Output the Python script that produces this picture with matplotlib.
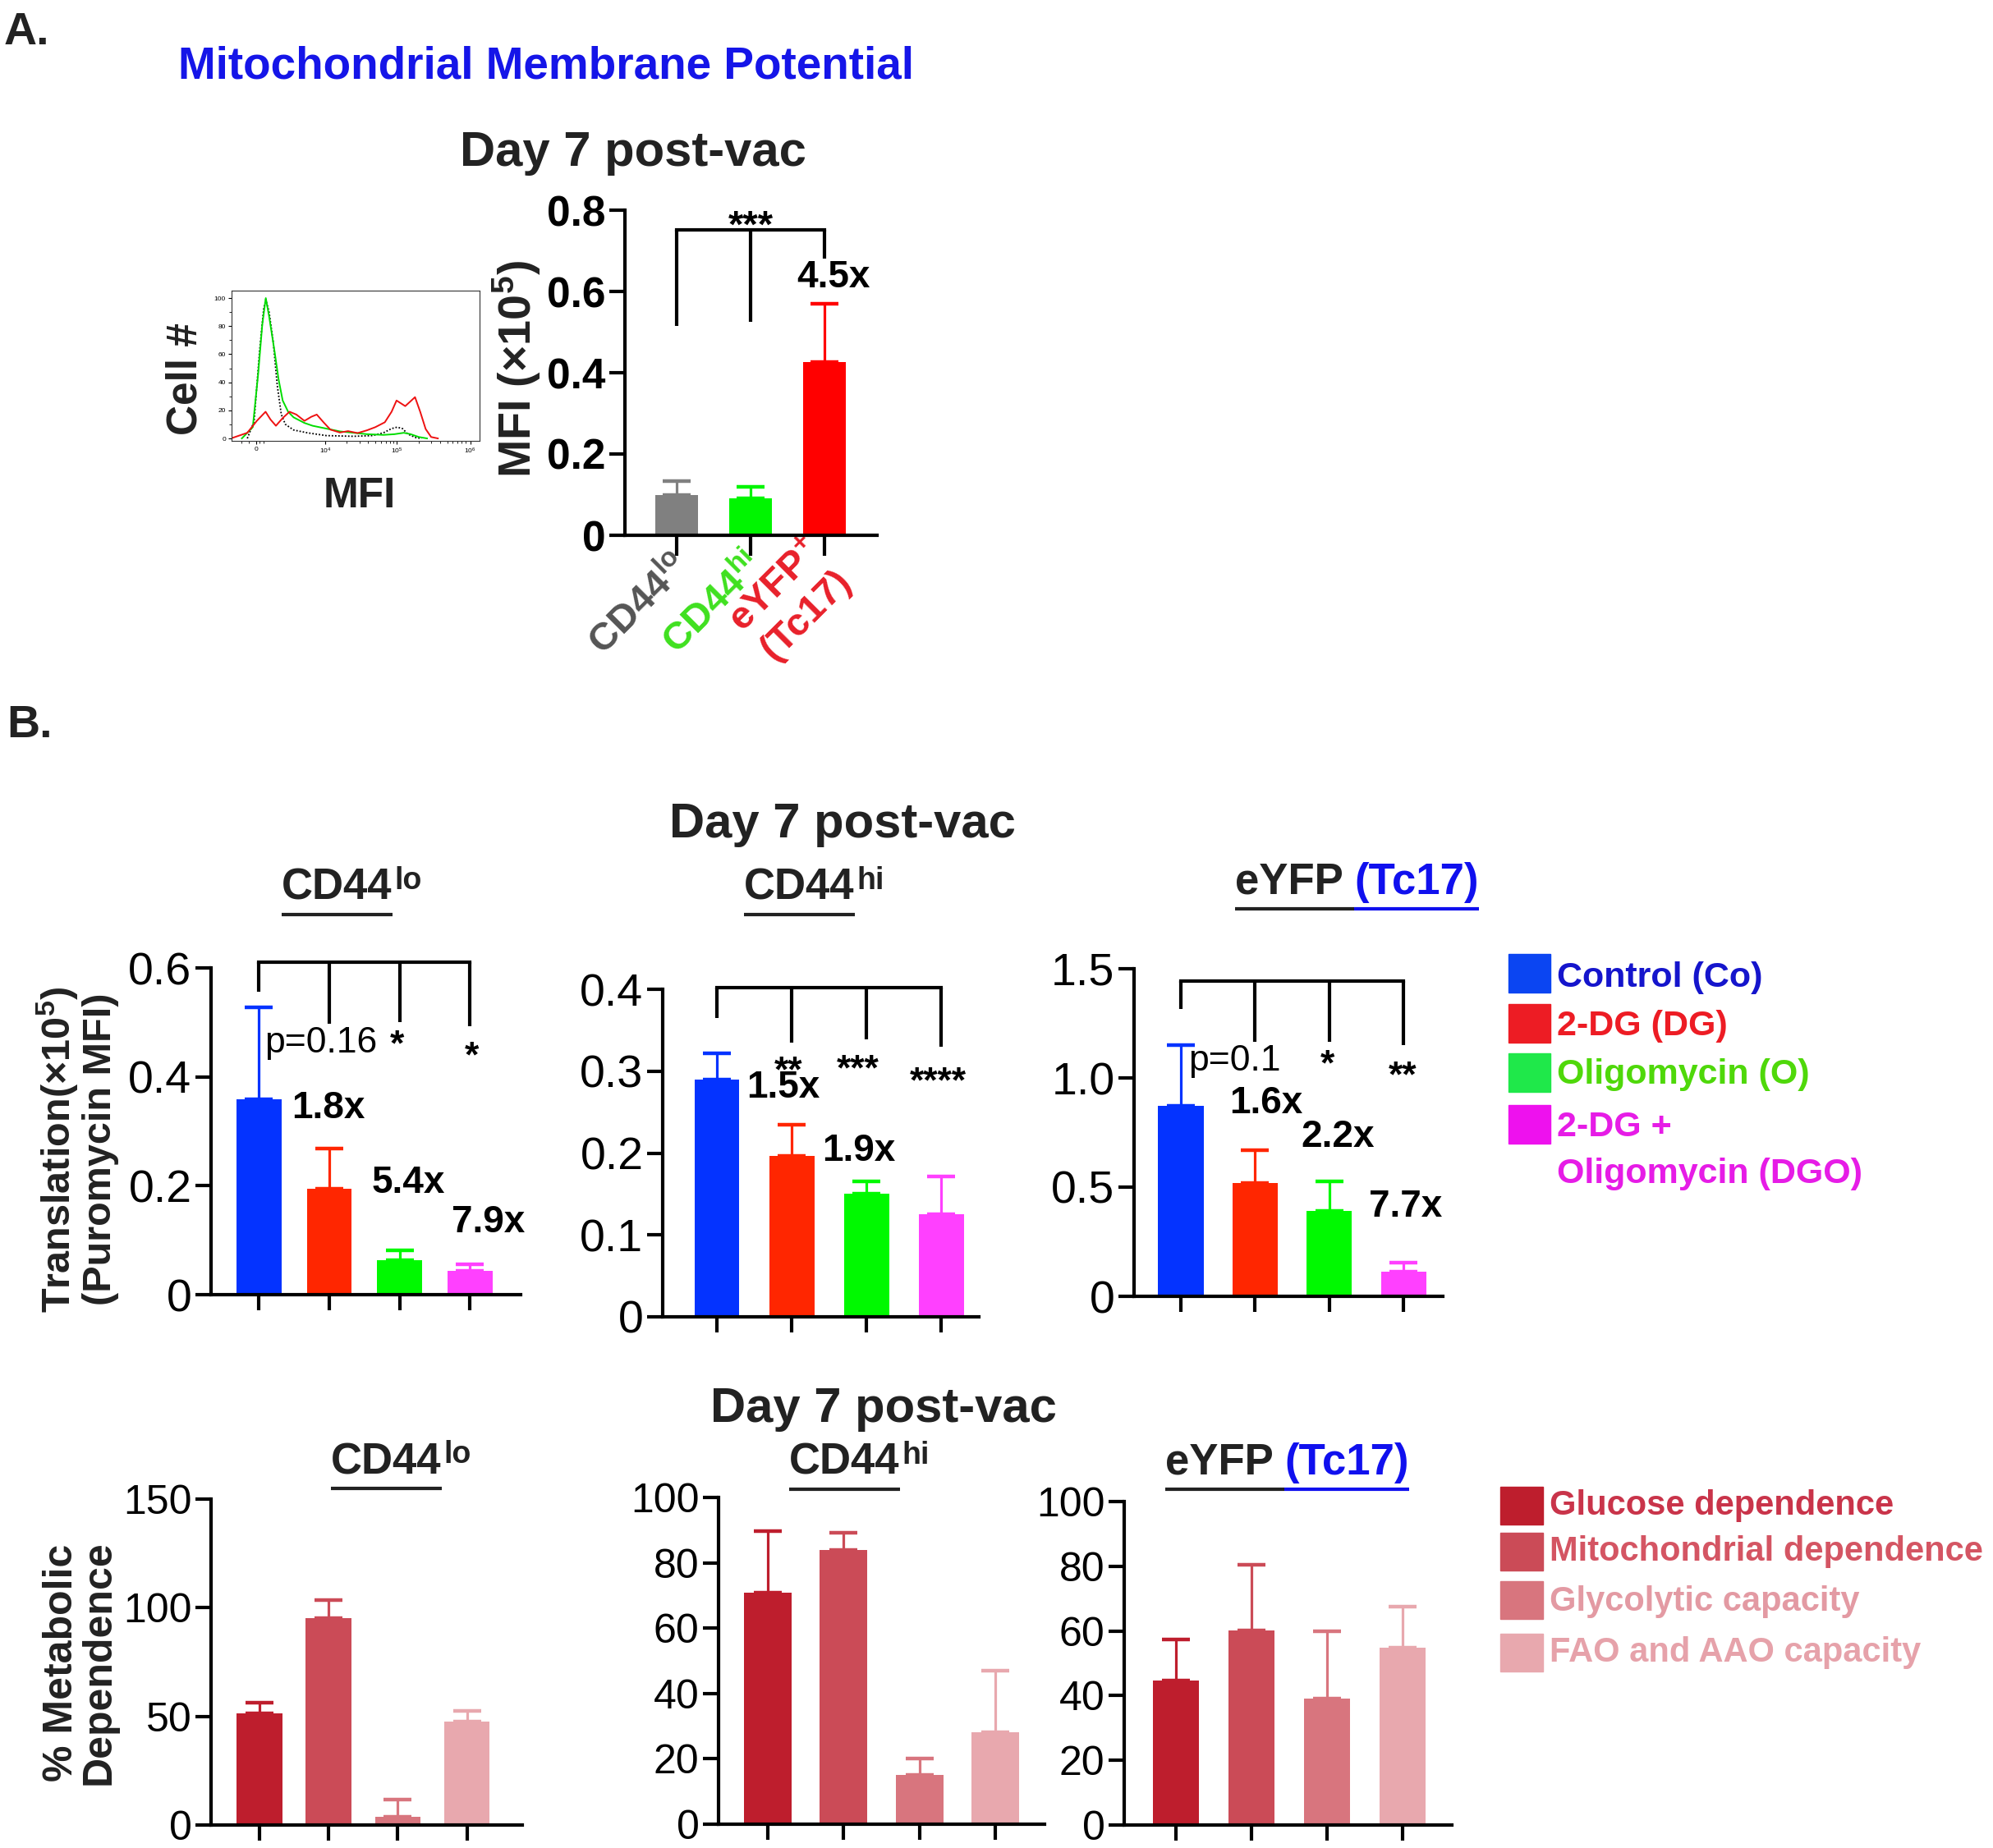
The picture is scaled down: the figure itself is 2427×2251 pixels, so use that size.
import matplotlib
matplotlib.use('Agg')
import matplotlib.pyplot as plt
import matplotlib.transforms as mtransforms
from matplotlib.patches import Rectangle
from matplotlib.lines import Line2D
import numpy as np

plt.rcParams['font.family'] = 'Liberation Sans'
plt.rcParams['mathtext.fontset'] = 'custom'
plt.rcParams['mathtext.rm'] = 'Liberation Sans'
plt.rcParams['mathtext.bf'] = 'Liberation Sans:bold'
plt.rcParams['mathtext.it'] = 'Liberation Sans:italic'

W, H = 2427, 2251

# ---------------- data ----------------
# A. flow histogram, x in display decades (0 -> "0", ~1 -> 10^4, ~2 -> 10^5, ~3 -> 10^6)
hist_xticks = [0, 0.96, 1.96, 2.98]
hist_xticklabels = ['0', '10$^4$', '10$^5$', '10$^6$']
green_x = [-0.197, -0.045, 0.030, 0.087, 0.136, 0.182, 0.258, 0.314, 0.371, 0.447, 0.523,
           0.674, 0.788, 0.977, 1.167, 1.356, 1.545, 1.773, 1.924, 2.057, 2.152, 2.265, 2.379]
green_y = [0, 8, 46, 81, 100, 87, 62, 42, 27, 19, 15, 11, 9, 7, 5, 4, 3, 2.5, 3, 4, 3, 1, 0]
dotted_x = [-0.121, -0.027, 0.049, 0.106, 0.136, 0.182, 0.239, 0.295, 0.352, 0.409, 0.523,
            0.712, 0.977, 1.356, 1.621, 1.773, 1.886, 1.962, 2.038, 2.114, 2.227, 2.303]
dotted_y = [0, 12, 62, 92, 99, 90, 69, 38, 17, 10, 6, 4, 2, 1.5, 2, 4, 7, 8, 7, 3, 0.5, 0]
red_x = [-0.348, -0.121, 0.011, 0.133, 0.201, 0.277, 0.371, 0.466, 0.561, 0.674, 0.769, 0.845,
         0.939, 1.034, 1.167, 1.280, 1.413, 1.545, 1.659, 1.792, 1.886, 1.955, 2.076, 2.212,
         2.284, 2.360, 2.436, 2.530]
red_y = [0, 4, 12.5, 19, 13.5, 9, 14.5, 19, 17, 12.5, 15.4, 17, 11.5, 6.3, 4.2, 5.2, 3.8, 5.8,
         8, 11.5, 19, 27, 23, 29.4, 19, 6.7, 1, 0]

# A. MFI bar chart
mmp_groups = ['CD44$^{\\mathbf{lo}}$', 'CD44$^{\\mathbf{hi}}$', 'eYFP$^{\\mathbf{+}}$\n(Tc17)']
mmp_mean = [0.099, 0.091, 0.427]
mmp_sem = [0.035, 0.029, 0.143]

# B. translation (puromycin MFI, x10^5)
treatments = ['Control (Co)', '2-DG (DG)', 'Oligomycin (O)', '2-DG +\nOligomycin (DGO)']
puro_lo_mean = [0.359, 0.194, 0.064, 0.043]
puro_lo_sem = [0.169, 0.075, 0.017, 0.013]
puro_hi_mean = [0.290, 0.196, 0.150, 0.125]
puro_hi_sem = [0.032, 0.039, 0.015, 0.046]
puro_yfp_mean = [0.872, 0.520, 0.391, 0.111]
puro_yfp_sem = [0.279, 0.148, 0.136, 0.042]

# B. % metabolic dependence
capacities = ['Glucose dependence', 'Mitochondrial dependence', 'Glycolytic capacity',
              'FAO and AAO capacity']
dep_lo_mean = [51.2, 95.3, 3.6, 47.6]
dep_lo_sem = [5.2, 8.2, 8.1, 5.0]
dep_hi_mean = [70.8, 84.0, 15.2, 28.2]
dep_hi_sem = [18.8, 5.2, 5.0, 18.7]
dep_yfp_mean = [44.6, 60.2, 39.2, 54.9]
dep_yfp_sem = [12.7, 20.3, 20.7, 12.6]

# ---------------- styles ----------------
mmp_colors = ['#808080', '#00f500', '#ff0000']
mmp_label_colors = ['#555555', '#3fe01f', '#e8202a']
treat_colors = ['#0433ff', '#ff2600', '#00f900', '#ff40ff']
treat_sq_colors = ['#0b45f2', '#ed1c24', '#1fe84a', '#ee11ee']
treat_text_colors = ['#1515cc', '#ed1c24', '#4fd80a', '#e61ce6']
cap_colors = ['#be1e2d', '#cb4b57', '#d8757e', '#e8a8ae']
cap_text_colors = ['#c9344a', '#d45563', '#e39aa3', '#e6a2aa']
LW = 3

fig = plt.figure(figsize=(W / 100, H / 100), dpi=100)
renderer = fig.canvas.get_renderer()


def add_ax(x0, x1, ytop, ybot):
    return fig.add_axes([x0 / W, 1 - ybot / H, (x1 - x0) / W, (ybot - ytop) / H])


def ftext(x, y, s, **kw):
    return fig.text(x / W, 1 - y / H, s, **kw)


def bar_panel(box, xlim, ylim, yticks, yticklabels, means, sems, colors, width,
              labelsize, bold=False):
    ax = add_ax(*box)
    pos = np.arange(len(means))
    ax.bar(pos, means, width, color=colors, zorder=2)
    for p, m, s, c in zip(pos, means, sems, colors):
        ax.errorbar(p, m, yerr=[[0], [s]], fmt='none', ecolor=c, elinewidth=2.3,
                    capsize=12, capthick=3.2, zorder=1)
    ax.set_xlim(xlim)
    ax.set_ylim(ylim)
    for side in ['top', 'right']:
        ax.spines[side].set_visible(False)
    for side in ['left', 'bottom']:
        ax.spines[side].set_linewidth(LW)
    ax.set_xticks(pos)
    ax.set_xticklabels([])
    ax.set_yticks(yticks)
    ax.set_yticklabels(yticklabels, fontweight='bold' if bold else 'normal')
    ax.tick_params(axis='both', direction='out', length=14, width=LW,
                   labelsize=labelsize, pad=3)
    return ax


def bracket(ax, xs, y, legs):
    ax.plot([xs[0], xs[-1]], [y, y], color='k', lw=LW, clip_on=False,
            solid_capstyle='projecting')
    for x, l in zip(xs, legs):
        ax.plot([x, x], [l, y], color='k', lw=LW, clip_on=False, solid_capstyle='butt')


def underline(bb, color, off=7):
    y = bb.y0 - off
    fig.add_artist(Line2D([bb.x0 / W, bb.x1 / W], [y / H, y / H], color=color, lw=3,
                          solid_capstyle='butt', transform=fig.transFigure))


def subtitle(x, baseline, main, sup=None, tail=None):
    t = ftext(x, baseline, main, fontsize=38, fontweight='bold', color='#222222',
              ha='left', va='baseline')
    bb = t.get_window_extent(renderer=renderer)
    underline(bb, '#222222')
    xr = bb.x1
    if sup is not None:
        ftext(xr + 3, baseline - 13, sup, fontsize=27, fontweight='bold', color='#222222',
              ha='left', va='baseline')
    if tail is not None:
        t2 = ftext(xr, baseline, tail, fontsize=38, fontweight='bold', color='#1010ee',
                   ha='left', va='baseline')
        underline(t2.get_window_extent(renderer=renderer), '#1010ee')


# ---------------- panel A ----------------
ftext(5, 54, 'A.', fontsize=40, fontweight='bold', color='#222222', va='baseline')
ftext(217, 95, 'Mitochondrial Membrane Potential', fontsize=39.5, fontweight='bold',
      color='#1515e8', va='baseline')
ftext(771, 202, 'Day 7 post-vac', fontsize=43, fontweight='bold', color='#222222',
      ha='center', va='baseline')

axh = add_ax(282, 584, 354, 537)
axh.plot(dotted_x, dotted_y, color='k', lw=1.3, ls=(0, (1, 1.2)))
axh.plot(green_x, green_y, color='#00dd00', lw=1.4)
axh.plot(red_x, red_y, color='#ee1111', lw=1.4)
axh.set_xlim(-0.34, 3.11)
axh.set_ylim(-1.75, 105.3)
axh.set_yticks([0, 20, 40, 60, 80, 100])
axh.set_xticks(hist_xticks)
axh.set_xticklabels(hist_xticklabels)
axh.set_yticks(np.arange(0, 101, 10), minor=True)
minor_x = [-0.2, -0.1, 0.05, 0.1] + [d + np.log10(k) for d in hist_xticks[1:3] for k in range(2, 10)]
axh.set_xticks(minor_x, minor=True)
for s in axh.spines.values():
    s.set_linewidth(0.8)
    s.set_color('#333333')
axh.tick_params(which='major', length=3, width=0.8, labelsize=6, pad=2)
axh.tick_params(which='minor', length=2, width=0.6)
ftext(226, 462, 'Cell #', fontsize=37, fontweight='bold', color='#222222', rotation=90,
      ha='center', va='center')
ftext(438, 618, 'MFI', fontsize=37, fontweight='bold', color='#222222', ha='center',
      va='baseline')

axa = bar_panel((761, 1068, 256, 652), (-0.7, 2.71), (0, 0.8), [0, 0.2, 0.4, 0.6, 0.8],
                ['0', '0.2', '0.4', '0.6', '0.8'], mmp_mean, mmp_sem, mmp_colors, 0.57, 37,
                bold=True)
axa.tick_params(axis='x', length=18, pad=0)
axa.set_xticklabels(mmp_groups, rotation=45, ha='right', va='center', rotation_mode='anchor',
                    fontsize=34, fontweight='bold', multialignment='right')
shift = mtransforms.ScaledTranslation(8 / 100, -6 / 100, fig.dpi_scale_trans)
for lab, c in zip(axa.get_xticklabels(), mmp_label_colors):
    lab.set_color(c)
    lab.set_transform(lab.get_transform() + shift)
bracket(axa, [0, 1, 2], 0.751, [0.515, 0.525, 0.681])
axa.text(1, 0.733, '***', fontsize=34, fontweight='bold', ha='center', va='baseline',
         clip_on=False)
axa.text(1.62, 0.61, '4.5x', fontsize=33, fontweight='bold', ha='left', va='baseline')
ftext(629, 450, 'MFI (×10$^{\\mathbf{5}}$)', fontsize=40, fontweight='bold', color='#222222',
      rotation=90, ha='center', va='center')

# ---------------- panel B, row 1 ----------------
ftext(8, 898, 'B.', fontsize=40, fontweight='bold', color='#222222', va='baseline')
ftext(1026, 1020, 'Day 7 post-vac', fontsize=43, fontweight='bold', color='#222222',
      ha='center', va='baseline')
subtitle(343, 1096, 'CD44', sup='lo')
subtitle(906, 1096, 'CD44', sup='hi')
subtitle(1504, 1089, 'eYFP ', tail='(Tc17)')

ax1 = bar_panel((257, 634, 1179, 1577), (-0.68, 3.72), (0, 0.6), [0, 0.2, 0.4, 0.6],
                ['0', '0.2', '0.4', '0.6'], puro_lo_mean, puro_lo_sem, treat_colors, 0.64, 40)
bracket(ax1, [0, 1, 2, 3], 0.611, [0.556, 0.497, 0.500, 0.493])
ax1.text(0.08, 0.445, 'p=0.16', fontsize=32, ha='left', va='baseline')
ax1.text(1.96, 0.439, '*', fontsize=32, fontweight='bold', ha='center', va='baseline')
ax1.text(3.03, 0.419, '*', fontsize=32, fontweight='bold', ha='center', va='baseline')
ax1.text(0.47, 0.324, '1.8x', fontsize=33, fontweight='bold', ha='left', va='baseline')
ax1.text(1.60, 0.187, '5.4x', fontsize=33, fontweight='bold', ha='left', va='baseline')
ax1.text(2.74, 0.115, '7.9x', fontsize=33, fontweight='bold', ha='left', va='baseline')

ax2 = bar_panel((807, 1192, 1205, 1604), (-0.725, 3.5), (0, 0.4), [0, 0.1, 0.2, 0.3, 0.4],
                ['0', '0.1', '0.2', '0.3', '0.4'], puro_hi_mean, puro_hi_sem, treat_colors,
                0.6, 40)
bracket(ax2, [0, 1, 2, 3], 0.4025, [0.365, 0.335, 0.339, 0.330])
ax2.text(0.95, 0.287, '**', fontsize=32, fontweight='bold', ha='center', va='baseline')
ax2.text(1.88, 0.289, '***', fontsize=32, fontweight='bold', ha='center', va='baseline')
ax2.text(2.96, 0.274, '****', fontsize=32, fontweight='bold', ha='center', va='baseline')
ax2.text(0.40, 0.268, '1.5x', fontsize=33, fontweight='bold', ha='left', va='baseline')
ax2.text(1.40, 0.190, '1.9x', fontsize=33, fontweight='bold', ha='left', va='baseline')

ax3 = bar_panel((1381, 1757, 1180, 1579), (-0.63, 3.53), (0, 1.5), [0, 0.5, 1.0, 1.5],
                ['0', '0.5', '1.0', '1.5'], puro_yfp_mean, puro_yfp_sem, treat_colors,
                0.61, 40)
bracket(ax3, [0, 1, 2, 3], 1.445, [1.316, 1.165, 1.165, 1.150])
ax3.text(0.10, 1.034, 'p=0.1', fontsize=32, ha='left', va='baseline')
ax3.text(1.97, 1.015, '*', fontsize=32, fontweight='bold', ha='center', va='baseline')
ax3.text(2.99, 0.962, '**', fontsize=32, fontweight='bold', ha='center', va='baseline')
ax3.text(0.66, 0.838, '1.6x', fontsize=33, fontweight='bold', ha='left', va='baseline')
ax3.text(1.62, 0.684, '2.2x', fontsize=33, fontweight='bold', ha='left', va='baseline')
ax3.text(2.53, 0.365, '7.7x', fontsize=33, fontweight='bold', ha='left', va='baseline')

ftext(94, 1400, 'Translation(×10$^{\\mathbf{5}}$)\n(Puromycin MFI)', fontsize=35,
      fontweight='bold', color='#222222', rotation=90, ha='center', va='center',
      linespacing=1.05)

# legend row 1 (one text per line, baselines in pixels)
sq_tops = [1162, 1223, 1283, 1346]
txt_base = [1202, 1261, 1320, 1384]
for lab, top, base, sc, tc in zip(treatments, sq_tops, txt_base, treat_sq_colors,
                                  treat_text_colors):
    fig.add_artist(Rectangle((1837 / W, 1 - (top + 47) / H), 51 / W, 47 / H, color=sc,
                             transform=fig.transFigure))
    for i, line in enumerate(lab.split('\n')):
        ftext(1896, base + 57 * i, line, fontsize=31, fontweight='bold', color=tc,
              va='baseline')

# ---------------- panel B, row 2 ----------------
ftext(1076, 1732, 'Day 7 post-vac', fontsize=43, fontweight='bold', color='#222222',
      ha='center', va='baseline')
subtitle(403, 1795, 'CD44', sup='lo')
subtitle(961, 1796, 'CD44', sup='hi')
subtitle(1419, 1796, 'eYFP ', tail='(Tc17)')

ax4 = bar_panel((257, 636, 1826, 2223), (-0.70, 3.8), (0, 150), [0, 50, 100, 150],
                ['0', '50', '100', '150'], dep_lo_mean, dep_lo_sem, cap_colors, 0.66, 36)
ax5 = bar_panel((875, 1272, 1824, 2222), (-0.65, 3.65), (0, 100), [0, 20, 40, 60, 80, 100],
                ['0', '20', '40', '60', '80', '100'], dep_hi_mean, dep_hi_sem, cap_colors,
                0.63, 36)
ax6 = bar_panel((1369, 1768, 1829, 2223), (-0.68, 3.65), (0, 100), [0, 20, 40, 60, 80, 100],
                ['0', '20', '40', '60', '80', '100'], dep_yfp_mean, dep_yfp_sem, cap_colors,
                0.61, 36)
ax6.xaxis.get_major_ticks()[0].tick1line.set_color(cap_colors[0])

ftext(98, 2025, '% Metabolic\nDependence', fontsize=36, fontweight='bold', color='#222222',
      rotation=90, ha='center', va='center', linespacing=1.0)

sq_tops2 = [1811, 1867, 1926, 1990]
txt_base2 = [1845, 1901, 1962, 2024]
for lab, top, base, sc, tc in zip(capacities, sq_tops2, txt_base2, cap_colors,
                                  cap_text_colors):
    fig.add_artist(Rectangle((1827 / W, 1 - (top + 46) / H), 52 / W, 46 / H, color=sc,
                             transform=fig.transFigure))
    ftext(1887, base, lab, fontsize=30, fontweight='bold', color=tc, va='baseline')

fig.savefig('out.png', dpi=100)
